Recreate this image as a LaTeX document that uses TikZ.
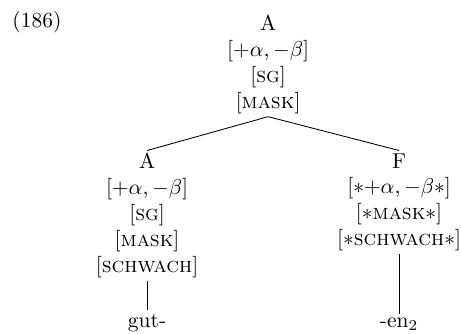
\documentclass[tikz,border=0pt]{standalone}
\usetikzlibrary{positioning}

\begin{document}
\begin{tikzpicture}[
    feat/.style={align=center, inner sep=1.2pt},
    leaf/.style={anchor=base, inner sep=1.5pt},
    branch/.style={line width=0.4pt}
]
\useasboundingbox (0,0) rectangle (214.4pt,-155.3pt);
\node[anchor=base] (num) at (17.2pt,-12.6pt) {(186)};
\node[feat, anchor=north] (root) at (124.7pt,-5.8pt) {A\\$[+\alpha, -\beta]$\\$[$\textsc{sg}$]$\\$[$\textsc{mask}$]$};
\node[feat, anchor=north] (adj) at (68.4pt,-70pt) {A\\$[+\alpha, -\beta]$\\$[$\textsc{sg}$]$\\$[$\textsc{mask}$]$\\$[$\textsc{schwach}$]$};
\node[feat, anchor=north] (flex) at (185.6pt,-70pt) {F\\$[{\ast}{+}\alpha, -\beta{\ast}]$\\$[{\ast}$\textsc{mask}${\ast}]$\\$[{\ast}$\textsc{schwach}${\ast}]$};
\node[leaf] (gut) at (adj.south |- 0,-152.1pt) {gut-};
\node[leaf] (en) at (flex.south |- 0,-152.1pt) {-en$_2$};

\draw[branch] (root.south) -- (adj.north);
\draw[branch] (root.south) -- (flex.north);
\draw[branch] (adj.south) -- (gut.north);
\draw[branch] (flex.south) -- (en.north);
\end{tikzpicture}
\end{document}
